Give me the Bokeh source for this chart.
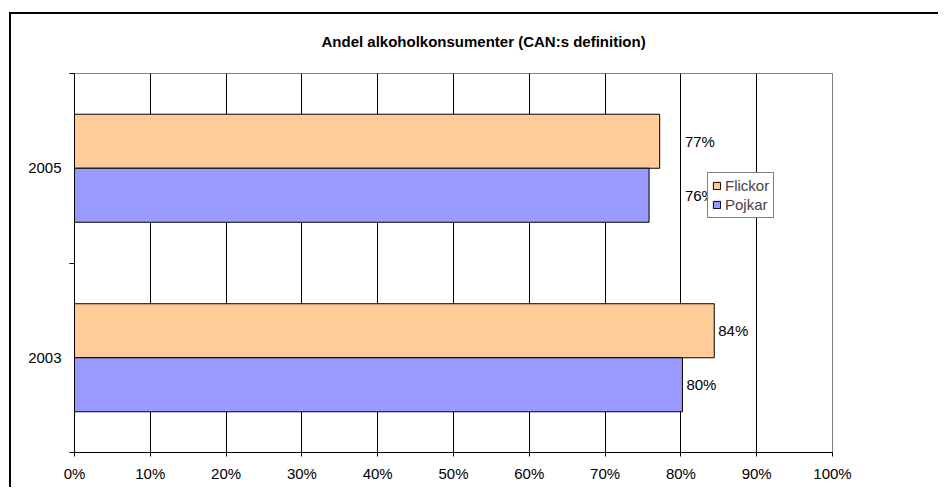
import numpy as np
from bokeh.plotting import figure
from bokeh.models import (ColumnDataSource, FixedTicker, PrintfTickFormatter, Legend,
                          Title, Range1d, InlineStyleSheet)
from bokeh.core.properties import value
from bokeh.embed import file_html
from bokeh.resources import INLINE

# ---- data ----
years = ["2003", "2005"]
flickor = [84.4, 77.2]
pojkar = [80.2, 75.8]
series = ["Flickor", "Pojkar"]
x_ticks = [0, 10, 20, 30, 40, 50, 60, 70, 80, 90, 100]
title_text = "Andel alkoholkonsumenter (CAN:s definition)"

FONT = "Liberation Sans"
COL_F = "#FFCC99"
COL_P = "#9999FF"
BAR_H = 0.285

yc = np.arange(len(years)) + 0.5
src_f = ColumnDataSource(dict(y=yc + BAR_H / 2, v=flickor,
                              lx=[max(v, 80) for v in flickor],
                              t=[f"{round(v)}%" for v in flickor]))
src_p = ColumnDataSource(dict(y=yc - BAR_H / 2, v=pojkar,
                              lx=[max(v, 80) for v in pojkar],
                              t=[f"{round(v)}%" for v in pojkar]))

# outer chart frame (left and top edges visible), painted behind a transparent canvas border
frame_css = InlineStyleSheet(css="""
:host {
  background:
    linear-gradient(#000, #000) 9px 12px / 2px 2000px no-repeat,
    linear-gradient(#000, #000) 9px 12px / 2000px 2px no-repeat,
    #ffffff;
}
""")

p = figure(width=938, height=487, output_backend="svg", toolbar_location=None,
           x_range=Range1d(0, 100), y_range=Range1d(0, len(years)),
           min_border_left=74, min_border_right=106, min_border_top=73, min_border_bottom=35,
           background_fill_color="white", border_fill_alpha=0,
           stylesheets=[frame_css])

p.outline_line_color = "#808080"
p.outline_line_width = 1

# title
p.add_layout(Title(text=title_text, align="left", offset=247, standoff=47,
                   text_font=FONT, text_font_size="15px", text_font_style="bold",
                   text_color="black"), "above")

rf = p.hbar(y="y", right="v", left=0, height=BAR_H, source=src_f,
            fill_color=COL_F, line_color="black", line_width=1)
rp = p.hbar(y="y", right="v", left=0, height=BAR_H, source=src_p,
            fill_color=COL_P, line_color="black", line_width=1)

for s in (src_f, src_p):
    p.text(x="lx", y="y", text="t", source=s, x_offset=4,
           text_font=value(FONT), text_font_size="15px", text_color="black",
           text_align="left", text_baseline="middle")

# x axis
p.xaxis.ticker = FixedTicker(ticks=x_ticks)
p.xaxis.formatter = PrintfTickFormatter(format="%d%%")
p.xaxis.major_tick_in = 0
p.xaxis.major_tick_out = 4
p.xaxis.minor_tick_out = 0
p.xaxis.minor_tick_in = 0
p.xaxis.axis_line_color = "black"
p.xaxis.major_tick_line_color = "black"
p.xaxis.major_label_text_font = FONT
p.xaxis.major_label_text_font_size = "15px"
p.xaxis.major_label_text_color = "black"
p.xaxis.major_label_standoff = 8

# y axis: labels at category centres, ticks at category boundaries
p.yaxis.ticker = FixedTicker(ticks=list(yc), minor_ticks=list(range(len(years) + 1)))
p.yaxis.major_label_overrides = {float(c): y for c, y in zip(yc, years)}
p.yaxis.major_tick_in = 0
p.yaxis.major_tick_out = 0
p.yaxis.minor_tick_in = 0
p.yaxis.minor_tick_out = 5
p.yaxis.minor_tick_line_color = "black"
p.yaxis.axis_line_color = "black"
p.yaxis.major_label_text_font = FONT
p.yaxis.major_label_text_font_size = "15px"
p.yaxis.major_label_text_color = "black"
p.yaxis.major_label_standoff = 8

p.xgrid.ticker = FixedTicker(ticks=x_ticks)
p.xgrid.grid_line_color = "black"
p.ygrid.grid_line_color = None

legend = Legend(items=[(series[0], [rf]), (series[1], [rp])], location=(633, 234),
                border_line_color="black", border_line_width=1,
                background_fill_color="white", background_fill_alpha=1,
                label_text_font=FONT, label_text_font_size="15px",
                glyph_width=9, glyph_height=9, label_standoff=4,
                padding=4, spacing=2, label_height=17, margin=0)
p.add_layout(legend)

open("out.html", "w").write(file_html(p, INLINE))
